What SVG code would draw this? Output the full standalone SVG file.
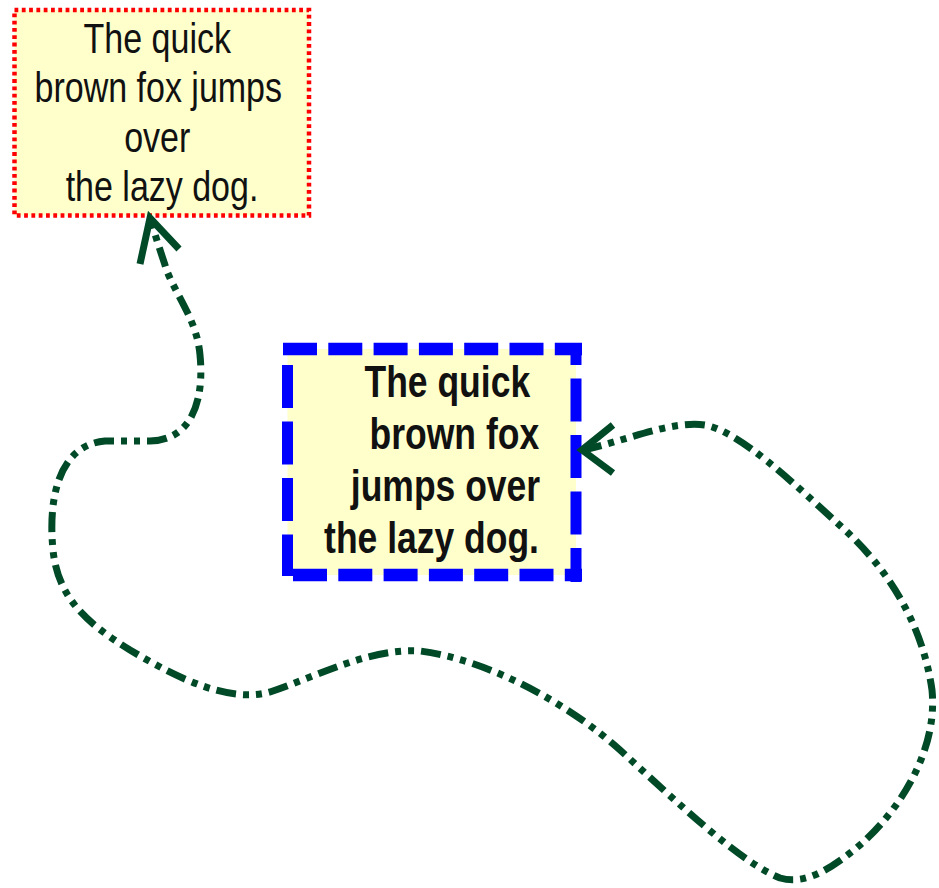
<svg xmlns="http://www.w3.org/2000/svg" width="939" height="888" viewBox="0 0 939 888">
  <style>
    .note-fill { fill: #ffffcc; stroke: none; }
    .dotted-red { fill: none; stroke: #ff0000; stroke-width: 4.5; stroke-dasharray: 3.8 3.5; }
    .dash-blue { fill: none; stroke: #0000ff; stroke-width: 12.5; }
    .dash-blue-h { stroke-dasharray: 34 11.3; }
    .dash-blue-v { stroke-width: 11; stroke-dasharray: 43 13.5; }
    .label-plain { font-family: "Liberation Sans", Arial, sans-serif; font-size: 34px; fill: #111; }
    .label-bold { font-family: "Liberation Sans", Arial, sans-serif; font-size: 35.5px; font-weight: bold; fill: #111; }
    .link { fill: none; stroke: #004a28; stroke-width: 7; stroke-dasharray: 20 7 6 7 6 7; }
    .arrowhead { fill: none; stroke: #004a28; stroke-width: 7; stroke-linecap: butt; stroke-linejoin: miter; }
  </style>

  <rect width="939" height="888" fill="#ffffff"/>

  <!-- Note with red dotted border, centered text -->
  <g id="node-red">
    <rect class="note-fill" x="14.5" y="10" width="294.5" height="205.5"/>
    <rect class="dotted-red" x="14.5" y="10" width="294.5" height="205.5"/>
    <g transform="translate(162 0) scale(1 1.25)">
      <text class="label-plain" text-anchor="middle">
        <tspan x="0" y="42.4">The quick</tspan>
        <tspan x="1" y="81.6">brown fox jumps</tspan>
        <tspan x="0" y="121.6">over</tspan>
        <tspan x="0" y="161.2">the lazy dog.</tspan>
      </text>
    </g>
  </g>

  <!-- Note with blue dashed border, right-aligned bold text -->
  <g id="node-blue">
    <rect class="note-fill" x="287.5" y="349" width="288.5" height="226"/>
    <line class="dash-blue dash-blue-h" x1="283" y1="349" x2="582" y2="349"/>
    <line class="dash-blue dash-blue-h" x1="293" y1="575" x2="582" y2="575"/>
    <line class="dash-blue dash-blue-v" x1="287.5" y1="365" x2="287.5" y2="576"/>
    <line class="dash-blue dash-blue-v" x1="576" y1="343" x2="576" y2="582" stroke-dashoffset="21"/>
    <g transform="scale(1 1.26)">
      <text class="label-bold" text-anchor="end">
        <tspan x="540" y="315.1">The quick</tspan>
        <tspan x="549" y="356.3">brown fox</tspan>
        <tspan x="550" y="397.6">jumps over</tspan>
        <tspan x="539" y="438.9">the lazy dog.</tspan>
      </text>
    </g>
  </g>

  <!-- Curved dash-dot-dot connector between the two notes -->
  <g id="connectors">
    <path class="link" d="M 582 450
      C 620 443, 670 420, 705 425
      C 740 432, 790 480, 845 530
      C 885 567, 922 620, 932 690
      C 938 750, 900 810, 860 845
      C 830 870, 805 885, 780 878
      C 740 862, 680 805, 620 750
      C 570 705, 490 660, 420 651
      C 370 648, 320 675, 270 692
      C 230 703, 180 680, 130 650
      C 90 625, 58 600, 53 550
      C 48 500, 58 445, 105 441
      L 150 441
      C 195 440, 204 395, 200 355
      C 197 318, 172 290, 165 265
      C 160 250, 155 235, 150 217"/>
    <polyline class="arrowhead" points="613,425 582,450 613,473"/>
    <polyline class="arrowhead" points="140,264 150,218 179,249"/>
  </g>
</svg>
